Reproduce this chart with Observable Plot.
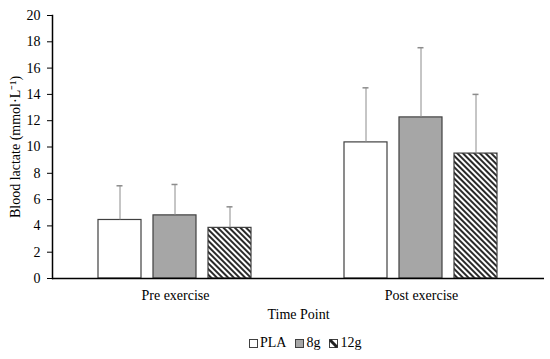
<!DOCTYPE html>
<html><head><meta charset="utf-8">
<script src="https://cdn.jsdelivr.net/npm/d3@7"></script>
<script src="https://cdn.jsdelivr.net/npm/@observablehq/plot@0.6"></script>
<style>
body{margin:0;background:#fff;font-family:"Liberation Serif",serif;}
#chart svg, #chart svg text, #chart svg g{font-family:"Liberation Serif",serif !important;font-weight:normal !important;}
#chart svg g[aria-label="y-axis label"] text, #chart svg g[aria-label="fx-axis label"] text{font-size:14px !important;}
#wrap{position:relative;width:550px;height:359px;}
#legend{position:absolute;left:249px;top:335px;display:flex;align-items:center;font-size:14px;line-height:16px;color:#000;}
#legend .it{display:flex;align-items:center;margin-right:9px;}
#legend svg{margin-right:2px;}
</style>
</head><body><div id="wrap"><div id="chart"></div><div id="legend"></div></div>
<script>
const timePoints = ["Pre exercise", "Post exercise"];
const groups = ["PLA", "8g", "12g"];
const preMeans = [4.45, 4.8, 3.85];
const preSD = [2.6, 2.35, 1.6];
const postMeans = [10.35, 12.25, 9.5];
const postSD = [4.15, 5.3, 4.5];
const yTicks = [0, 2, 4, 6, 8, 10, 12, 14, 16, 18, 20];
const groupFills = ["#ffffff", "#a6a6a6", "url(#hatch)"];

const data = [];
groups.forEach((g, i) => data.push({time: timePoints[0], group: g, mean: preMeans[i], sd: preSD[i]}));
groups.forEach((g, i) => data.push({time: timePoints[1], group: g, mean: postMeans[i], sd: postSD[i]}));

const chart = Plot.plot({
  width: 550, height: 330,
  marginLeft: 52, marginRight: 6, marginTop: 15, marginBottom: 52,
  style: {fontFamily: "'Liberation Serif', serif", fontSize: "14px", color: "#000", background: "#fff"},
  fx: {domain: timePoints, padding: 0, label: null},
  x: {domain: groups, paddingInner: 0.21, paddingOuter: 0.84, axis: null},
  y: {domain: [0, 20]},
  color: {domain: groups, range: groupFills},
  marks: [
    Plot.barY(data, {fx: "time", x: "group", y: "mean", fill: "group", stroke: "#404040", strokeWidth: 1.2}),
    Plot.ruleX(data, {fx: "time", x: "group", y1: "mean", y2: d => d.mean + d.sd, stroke: "#8c8c8c", strokeWidth: 1}),
    Plot.tickY(data, {fx: "time", x: "group", y: d => d.mean + d.sd, stroke: "#8c8c8c", strokeWidth: 1.5, insetLeft: 18.5, insetRight: 18.5}),
    Plot.ruleY([0], {stroke: "#000", strokeWidth: 1.5}),
    Plot.axisY({ticks: yTicks, tickSize: 5, tickPadding: 7, tickFormat: d => d, fontSize: 14, label: "Blood lactate (mmol·L⁻¹)", labelAnchor: "center", labelOffset: 42, labelArrow: false}),
    Plot.axisFx({anchor: "bottom", tickSize: 0, tickPadding: 12, fontSize: 14, label: "Time Point", labelAnchor: "center", labelOffset: 40}),
    Plot.frame({anchor: "left", facetAnchor: "left", stroke: "#000", strokeWidth: 1.5})
  ]
});

const defs = d3.select(chart).insert("defs", ":first-child");
const pat = defs.append("pattern").attr("id", "hatch").attr("patternUnits", "userSpaceOnUse")
  .attr("width", 4).attr("height", 4).attr("patternTransform", "rotate(-45)");
pat.append("rect").attr("width", 4).attr("height", 4).attr("fill", "#fff");
pat.append("rect").attr("width", 2).attr("height", 4).attr("fill", "#2a2a2a");

document.getElementById("chart").appendChild(chart);

const legend = document.getElementById("legend");
groups.forEach((g, i) => {
  const it = document.createElement("div");
  it.className = "it";
  let sw;
  if (i === 2) {
    sw = `<svg width="9" height="9"><rect x="0.5" y="0.5" width="8" height="8" fill="#fff" stroke="#404040"/><line x1="1" y1="1" x2="8" y2="8" stroke="#222" stroke-width="3"/></svg>`;
  } else {
    sw = `<svg width="9" height="9"><rect x="0.5" y="0.5" width="8" height="8" fill="${groupFills[i]}" stroke="#404040"/></svg>`;
  }
  it.innerHTML = sw + `<span>${g}</span>`;
  legend.appendChild(it);
});
</script>
</body></html>
